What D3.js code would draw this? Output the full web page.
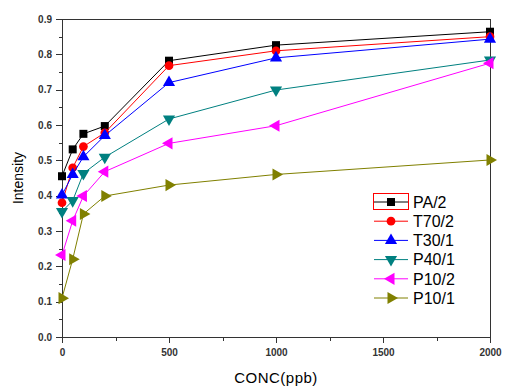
<!DOCTYPE html>
<meta charset="utf-8">
<style>
body { margin: 0; background: #fff; }
.axis text { font: bold 10px "Liberation Sans", Arial, sans-serif; fill: #333; }
.axis path, .axis line { stroke: #333; stroke-width: 1px; shape-rendering: crispEdges; }
.title { font: 14px "Liberation Sans", Arial, sans-serif; fill: #000; }
.legend text { font: 16px "Liberation Sans", Arial, sans-serif; fill: #000; }
</style>
<body>
<svg width="507" height="387"></svg>
<script src="https://d3js.org/d3.v7.min.js"></script>
<script>
var conc = [0, 50, 100, 200, 500, 1000, 2000];
var names = ["PA/2", "T70/2", "T30/1", "P40/1", "P10/2", "P10/1"];
var pa2  = [0.455, 0.531, 0.575, 0.597, 0.782, 0.826, 0.864];
var t702 = [0.380, 0.479, 0.539, 0.578, 0.768, 0.810, 0.850];
var t301 = [0.402, 0.460, 0.510, 0.570, 0.720, 0.790, 0.843];
var p401 = [0.355, 0.386, 0.463, 0.509, 0.617, 0.699, 0.784];
var p102 = [0.232, 0.329, 0.399, 0.468, 0.548, 0.598, 0.775];
var p101 = [0.110, 0.220, 0.348, 0.399, 0.430, 0.460, 0.501];
var series = [pa2, t702, t301, p401, p102, p101];
var colors = ["#000000", "#ff0000", "#0000ff", "#008080", "#ff00ff", "#808000"];
var xTicks = [0, 500, 1000, 1500, 2000];
var yTicks = [0, 0.1, 0.2, 0.3, 0.4, 0.5, 0.6, 0.7, 0.8, 0.9];

var svg = d3.select("svg"),
    margin = {top: 19, right: 17, bottom: 50, left: 62},
    width = +svg.attr("width") - margin.left - margin.right,
    height = +svg.attr("height") - margin.top - margin.bottom;

var x = d3.scaleLinear().domain([0, 2000]).range([0, width]);
var y = d3.scaleLinear().domain([0, 0.9]).range([height, 0]);

var g = svg.append("g")
    .attr("transform", "translate(" + margin.left + "," + margin.top + ")");

// frame
g.append("rect")
    .attr("width", width).attr("height", height)
    .attr("fill", "none").attr("stroke", "#333")
    .attr("shape-rendering", "crispEdges");

// minor ticks
g.append("g")
    .attr("class", "axis")
    .attr("transform", "translate(0," + height + ")")
    .call(d3.axisBottom(x).tickValues([250, 750, 1250, 1750]).tickSize(4).tickFormat(""))
    .select(".domain").remove();
g.append("g")
    .attr("class", "axis")
    .call(d3.axisLeft(y).tickValues(d3.range(0.05, 0.9, 0.1)).tickSize(3).tickFormat(""))
    .select(".domain").remove();

g.append("g")
    .attr("class", "axis")
    .attr("transform", "translate(0," + height + ")")
    .call(d3.axisBottom(x).tickValues(xTicks).tickSize(6).tickPadding(6).tickFormat(d3.format("d")));

g.append("g")
    .attr("class", "axis")
    .call(d3.axisLeft(y).tickValues(yTicks).tickSize(6).tickPadding(4).tickFormat(d3.format(".1f")));

g.append("text")
    .attr("class", "title")
    .attr("text-anchor", "middle")
    .attr("transform", "translate(" + (-39) + "," + (height / 2) + ") rotate(-90)")
    .text("Intensity");

g.append("text")
    .attr("class", "title")
    .attr("text-anchor", "middle")
    .attr("x", width / 2)
    .attr("y", height + 46)
    .style("font-size", "15px")
    .style("letter-spacing", "0.5px")
    .text("CONC(ppb)");

var symbols = [
  d3.symbol().type(d3.symbolSquare).size(64),
  d3.symbol().type(d3.symbolCircle).size(60),
  d3.symbol().type(d3.symbolTriangle).size(64),
  d3.symbol().type(d3.symbolTriangle).size(64),
  d3.symbol().type(d3.symbolTriangle).size(64),
  d3.symbol().type(d3.symbolTriangle).size(64)
];
var rotations = [0, 0, 0, 180, -90, 90];

var line = d3.line()
    .x(function(d, i) { return x(conc[i]); })
    .y(function(d) { return y(d); });

series.forEach(function(s, k) {
  g.append("path")
      .datum(s)
      .attr("fill", "none")
      .attr("stroke", colors[k])
      .attr("stroke-width", 1)
      .attr("d", line);
  g.selectAll(null)
      .data(s)
    .enter().append("path")
      .attr("d", symbols[k])
      .attr("fill", colors[k])
      .attr("transform", function(d, i) {
        return "translate(" + x(conc[i]) + "," + y(d) + ") rotate(" + rotations[k] + ")";
      });
});

// legend
var legend = svg.append("g")
    .attr("class", "legend")
    .attr("transform", "translate(373,202)");

legend.append("rect")
    .attr("x", 0.5).attr("y", -8.5)
    .attr("width", 35).attr("height", 16)
    .attr("fill", "none").attr("stroke", "#ff0000");

names.forEach(function(n, k) {
  var row = legend.append("g").attr("transform", "translate(0," + (k * 19.2) + ")");
  row.append("line")
      .attr("x1", 1).attr("x2", 35)
      .attr("stroke", colors[k]).attr("stroke-width", 1);
  row.append("path")
      .attr("d", symbols[k])
      .attr("fill", colors[k])
      .attr("transform", "translate(18,0) rotate(" + rotations[k] + ")");
  row.append("text")
      .attr("x", 40).attr("dy", "0.36em")
      .text(n);
});
</script>
